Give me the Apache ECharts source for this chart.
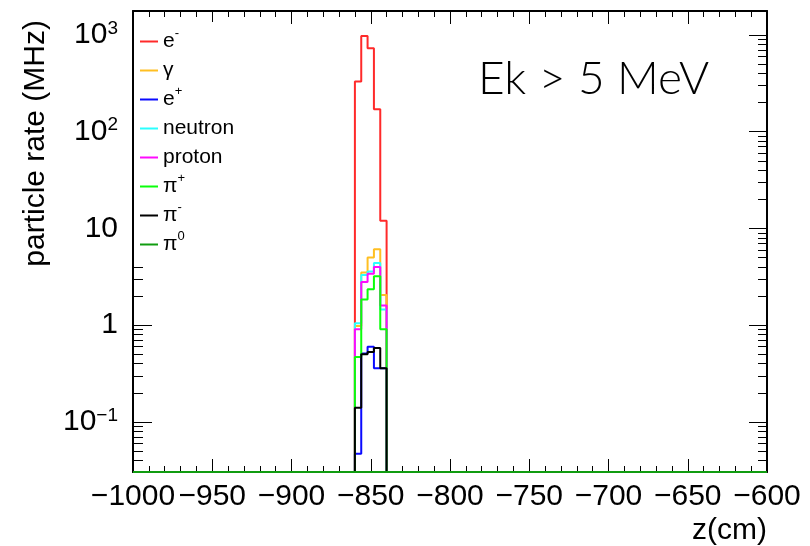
<!DOCTYPE html>
<html>
<head>
<meta charset="utf-8">
<script src="https://cdn.jsdelivr.net/npm/echarts@6/dist/echarts.min.js"></script>
<style>
  html, body { margin: 0; padding: 0; background: #fff; }
  #main { width: 810px; height: 546px; }
</style>
</head>
<body>
<div id="main"></div>
<script>
// edges (cm) of the filled bins, 4 cm wide; all other bins are empty
const binEdges = [-860, -856, -852, -848, -844, -840];

// particle rate (MHz) per bin, 0 = empty bin
const eMinus  = [330, 975, 730, 171, 12];
const gamma   = [0.98, 3.5, 5.0, 6.1, 2.05];
const ePlus   = [0.047, 0.51, 0.60, 0.36, 0.36];
const neutron = [1.05, 3.3, 3.6, 4.4, 1.45];
const proton  = [0.91, 2.8, 3.4, 4.0, 1.6];
const piPlus  = [0.47, 1.85, 2.35, 3.2, 0.91];
const piMinus = [0.14, 0.50, 0.53, 0.58, 0.36];
const piZero  = [0, 0, 0, 0, 0];

const yMajor = [0.1, 1, 10, 100, 1000];

const xMin = -1000, xMax = -600;
const yMin = 0.0304, yMax = 1770;

const font = "'Liberation Sans', Arial, Helvetica, sans-serif";

// minor ticks 2..9 x 10^n inside the range
let yMinor = [];
for (let e = -2; e <= 3; e++) {
  for (let k = 2; k <= 9; k++) {
    let v = k * Math.pow(10, e);
    if (v > yMin && v < yMax) yMinor.push(v);
  }
}

// empty bins sit on the bottom of the frame, like ROOT does
function histPoints(vals) {
  let pts = [[xMin, yMin]];
  vals.forEach((v, i) => pts.push([binEdges[i], v > 0 ? v : yMin]));
  pts.push([binEdges[binEdges.length - 1], yMin]);
  pts.push([xMax, yMin]);
  return pts;
}

const particles = [
  { name: "e-",      data: eMinus,  color: "#ff2a2a" },
  { name: "gamma",   data: gamma,   color: "#ffbf22" },
  { name: "e+",      data: ePlus,   color: "#0a0aff" },
  { name: "neutron", data: neutron, color: "#2affff" },
  { name: "proton",  data: proton,  color: "#ff0aff" },
  { name: "pi+",     data: piPlus,  color: "#0aff0a" },
  { name: "pi-",     data: piMinus, color: "#000000" },
  { name: "pi0",     data: piZero,  color: "#109c10" }
];

const legendText = {
  "e-": "{t|e}{s|-}",
  "gamma": "{t|γ}",
  "e+": "{t|e}{s|+}",
  "neutron": "{t|neutron}",
  "proton": "{t|proton}",
  "pi+": "{t|π}{s|+}",
  "pi-": "{t|π}{s|-}",
  "pi0": "{t|π}{s|0}"
};

function yLabel(v) {
  let e = Math.round(Math.log10(v));
  if (e === 0) return "{b|1}";
  if (e === 1) return "{b|10}";
  return "{b|10}{s|" + (e < 0 ? "\u2212" + (-e) : e) + "}";
}

let myChart = echarts.init(document.getElementById("main"));

let yBase = {
  type: "log",
  min: yMin,
  max: yMax,
  splitLine: { show: false },
  axisLabel: { show: false },
  axisLine: { show: false },
  axisTick: { show: false }
};

let option = {
  animation: false,
  backgroundColor: "#fff",
  grid: { left: 133, right: 43, top: 11, bottom: 74, outerBoundsMode: "none", containLabel: false },
  legend: {
    orient: "vertical",
    left: 134,
    top: 22,
    padding: [5, 14, 5, 6],
    itemGap: 0,
    itemWidth: 18,
    itemHeight: 2,
    icon: "rect",
    selectedMode: false,
    backgroundColor: "#fff",
    data: particles.map(p => p.name),
    formatter: name => legendText[name],
    textStyle: {
      fontFamily: font,
      fontSize: 21,
      lineHeight: 29,
      color: "#000",
      rich: {
        t: { fontFamily: font, fontSize: 21, lineHeight: 29, color: "#000" },
        s: { fontFamily: font, fontSize: 13, lineHeight: 14, verticalAlign: "top", color: "#000" }
      }
    }
  },
  xAxis: [
    {
      type: "value",
      min: xMin,
      max: xMax,
      interval: 50,
      name: "z(cm)",
      nameLocation: "end",
      nameGap: 0,
      nameTextStyle: {
        fontFamily: font, fontSize: 30, color: "#000",
        align: "right", verticalAlign: "top", padding: [44, 0, 0, 0]
      },
      splitLine: { show: false },
      axisLine: { show: true, lineStyle: { color: "#000", width: 2 } },
      axisTick: { inside: true, length: 13, lineStyle: { color: "#000", width: 1 } },
      minorTick: { show: true, splitNumber: 5, length: 6, lineStyle: { color: "#000", width: 1 } },
      axisLabel: {
        margin: 10,
        hideOverlap: false,
        showMinLabel: true,
        showMaxLabel: true,
        fontFamily: font,
        fontSize: 30,
        color: "#000",
        formatter: v => String(v).replace("-", "\u2212")
      }
    },
    {
      type: "value",
      position: "top",
      min: xMin,
      max: xMax,
      interval: 50,
      splitLine: { show: false },
      axisLine: { show: true, lineStyle: { color: "#000", width: 2 } },
      axisTick: { inside: true, length: 13, lineStyle: { color: "#000", width: 1 } },
      minorTick: { show: true, splitNumber: 5, length: 6, lineStyle: { color: "#000", width: 1 } },
      axisLabel: { show: false }
    }
  ],
  yAxis: [
    Object.assign({}, yBase, {
      position: "left",
      name: "particle rate (MHz)",
      nameLocation: "end",
      nameRotate: 90,
      nameGap: -9,
      nameTextStyle: {
        fontFamily: font, fontSize: 30, color: "#000",
        align: "right", verticalAlign: "bottom", padding: [0, 0, 82, 0]
      },
      axisLine: { show: true, lineStyle: { color: "#000", width: 2 } },
      axisTick: { show: true, inside: true, length: 19, customValues: yMajor, lineStyle: { color: "#000", width: 1 } },
      axisLabel: {
        show: true,
        margin: 15,
        hideOverlap: false,
        customValues: yMajor,
        formatter: yLabel,
        rich: {
          b: { fontFamily: font, fontSize: 30, lineHeight: 32, color: "#000" },
          s: { fontFamily: font, fontSize: 19, lineHeight: 20, verticalAlign: "top", color: "#000" }
        }
      }
    }),
    Object.assign({}, yBase, {
      position: "left",
      axisTick: { show: true, inside: true, length: 10, customValues: yMinor, lineStyle: { color: "#000", width: 1 } }
    }),
    Object.assign({}, yBase, {
      position: "right",
      axisLine: { show: true, lineStyle: { color: "#000", width: 2 } },
      axisTick: { show: true, inside: true, length: 18, customValues: yMajor, lineStyle: { color: "#000", width: 1 } }
    }),
    Object.assign({}, yBase, {
      position: "right",
      axisTick: { show: true, inside: true, length: 9, customValues: yMinor, lineStyle: { color: "#000", width: 1 } }
    })
  ],
  graphic: [
    {
      type: "text",
      left: 478,
      top: 56,
      style: { text: "Ek > 5 MeV", fontFamily: "Lato, 'Open Sans', sans-serif", fontWeight: 300, fontSize: 46, fill: "#000" }
    }
  ],
  series: particles.map(p => ({
    name: p.name,
    type: "line",
    step: "end",
    symbol: "none",
    clip: false,
    xAxisIndex: 0,
    yAxisIndex: 0,
    color: p.color,
    lineStyle: { color: p.color, width: 2 },
    data: histPoints(p.data)
  }))
};

myChart.setOption(option);
</script>
</body>
</html>
